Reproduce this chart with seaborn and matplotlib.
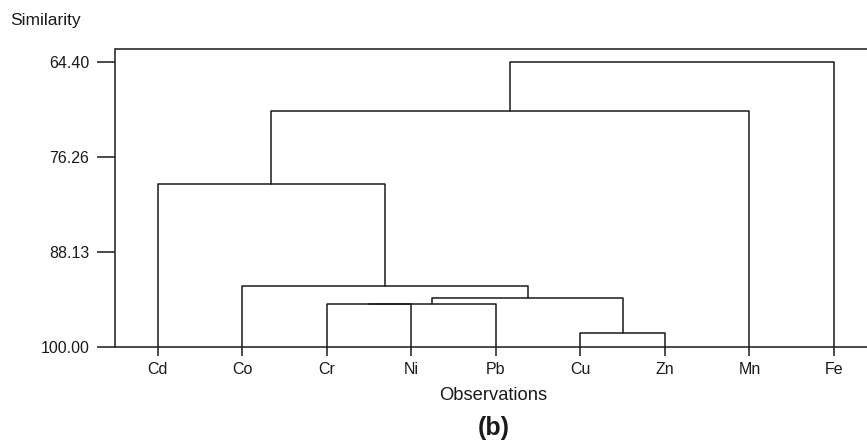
import numpy as np
import pandas as pd
import matplotlib
matplotlib.use("Agg")
import matplotlib.pyplot as plt
import seaborn as sns

# leaves in dendrogram order
leaves = ["Cd", "Co", "Cr", "Ni", "Pb", "Cu", "Zn", "Mn", "Fe"]

# merges: node ids 0..8 are leaves, new clusters get 9, 10, ...
link_left = [5, 2, 10, 11, 1, 0, 14, 15]
link_right = [6, 3, 4, 9, 12, 13, 7, 8]
link_sim = [98.19, 94.60, 94.60, 93.88, 92.38, 79.64, 70.48, 64.40]

y_ticks = [64.40, 76.26, 88.13, 100.00]

sns.set_style("ticks")
plt.rcParams['font.family'] = ['Liberation Sans', 'DejaVu Sans']

# positions of every node
node_x = list(range(len(leaves)))
node_y = [100.0] * len(leaves)
rows = []
for k in range(len(link_left)):
    a = link_left[k]
    b = link_right[k]
    s = link_sim[k]
    xs = [node_x[a], node_x[a], node_x[b], node_x[b]]
    ys = [node_y[a], s, s, node_y[b]]
    for j in range(4):
        rows.append({"link": k, "order": j, "x": xs[j], "y": ys[j]})
    node_x.append((node_x[a] + node_x[b]) / 2)
    node_y.append(s)
df = pd.DataFrame(rows)

W, H = 867, 445
fig = plt.figure(figsize=(W / 100, H / 100), dpi=100)
ax = fig.add_axes([115.5 / W, 1 - 347 / H, (W - 115.5) / W, (347 - 48.5) / H])

sns.lineplot(data=df, x="x", y="y", units="link", estimator=None, sort=False,
             color="#1a1a1a", lw=1.1, ax=ax, legend=False)

ax.set_xlim(-0.5, 8.39)
ax.set_ylim(100.0, 62.71)
ax.set_xticks(range(len(leaves)))
ax.set_xticklabels(leaves, fontsize=11.5)
ax.set_yticks(y_ticks)
ax.set_yticklabels(["%.2f" % v for v in y_ticks], fontsize=11.5)
ax.set_xlabel("")
ax.set_ylabel("")
ax.tick_params(axis="y", length=12.8, width=1.1, pad=6, color="#1a1a1a", labelcolor="#1a1a1a")
ax.tick_params(axis="x", length=6.5, width=1.1, pad=4, color="#1a1a1a", labelcolor="#1a1a1a")

ax.spines["right"].set_visible(False)
for side in ["left", "top", "bottom"]:
    ax.spines[side].set_color("#1a1a1a")
    ax.spines[side].set_linewidth(1.1)

fig.text(10 / W, 1 - 21 / H, "Similarity", fontsize=12.5, va="center", ha="left", color="#1a1a1a")
fig.text(493 / W, 1 - 396 / H, "Observations", fontsize=13.2, va="center", ha="center", color="#1a1a1a")
fig.text(493.5 / W, 1 - 428 / H, "(b)", fontsize=18, fontweight="bold", va="center", ha="center", color="#1a1a1a")

fig.savefig("out.png", dpi=100)
